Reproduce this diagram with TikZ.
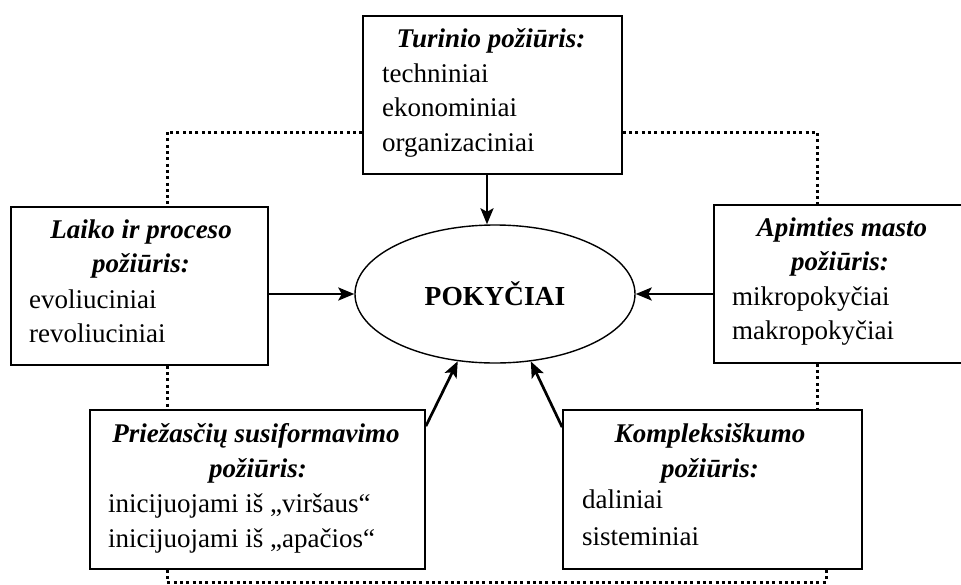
\documentclass[tikz,border=0pt]{standalone}
\usepackage{fontspec}
\setmainfont{Liberation Serif}
\usetikzlibrary{arrows.meta,shapes.geometric}

\tikzset{
  box/.style={draw, line width=1.7pt, rectangle, inner sep=0pt},
  core/.style={draw, line width=1.4pt, ellipse, inner sep=0pt,
    minimum width=280pt, minimum height=138pt,
    font=\fontsize{27.5}{30}\selectfont\bfseries},
  ttl/.style={anchor=base, inner sep=0pt, font=\fontsize{27}{34}\selectfont\bfseries\itshape},
  itm/.style={anchor=base west, inner sep=0pt, font=\fontsize{27}{34}\selectfont},
  arr/.style={line width=2.7pt, -{Stealth[length=16pt,width=13pt,inset=3.5pt]}},
  dots/.style={line width=3pt, dash pattern=on 3pt off 3.3pt}
}

\begin{document}
\begin{tikzpicture}[x=1pt,y=-1pt]
\useasboundingbox (0,0) rectangle (961,584);

% central ellipse
\node[core] (pk) at (495,294) {POKYČIAI};

% the five surrounding boxes
\node[box, minimum width=259pt, minimum height=158pt] (top) at (492.5,95) {};
\node[box, minimum width=257pt, minimum height=158pt] (lt)  at (139.5,286) {};
\node[box, minimum width=252pt, minimum height=158pt] (rt)  at (840,284) {};
\node[box, minimum width=335pt, minimum height=159pt] (bl)  at (257.5,489.5) {};
\node[box, minimum width=299pt, minimum height=159pt] (br)  at (712.5,489.5) {};

% texts of the top box
\node[ttl] (t0) at (491,47) {Turinio požiūris:};
\node[itm] (t1) at (382,82) {techniniai};
\node[itm] (t2) at (382,116) {ekonominiai};
\node[itm] (t3) at (382,151) {organizaciniai};

% texts of the left box
\node[ttl] (l0) at (141,238) {Laiko ir proceso};
\node[ttl] (l1) at (141,272) {požiūris:};
\node[itm] (l2) at (29,308) {evoliuciniai};
\node[itm] (l3) at (29,342) {revoliuciniai};

% texts of the right box
\node[ttl] (r0) at (842,236) {Apimties masto};
\node[ttl] (r1) at (840,270) {požiūris:};
\node[itm] (r2) at (732,305) {mikropokyčiai};
\node[itm] (r3) at (732,339) {makropokyčiai};

% texts of the lower left box
\node[ttl] (b0) at (256,442) {Priežasčių susiformavimo};
\node[ttl] (b1) at (258,477) {požiūris:};
\node[itm] (b2) at (108,512) {inicijuojami iš „viršaus“};
\node[itm] (b3) at (108,547) {inicijuojami iš „apačios“};

% texts of the lower right box
\node[ttl] (k0) at (710,442) {Kompleksiškumo};
\node[ttl] (k1) at (710,477) {požiūris:};
\node[itm] (k2) at (582,508) {daliniai};
\node[itm] (k3) at (582,545) {sisteminiai};

% arrows into the ellipse
\draw[arr] ([xshift=-5.5pt]top.south) -- ([xshift=-8pt]pk.north);
\draw[arr] (lt.east |- pk.west) -- (pk.west);
\draw[arr] (rt.west |- pk.east) -- (pk.east);
\draw[arr] ([yshift=-17pt]bl.north east) -- (pk.-119);
\draw[arr] ([yshift=-18pt]br.north west) -- (pk.-62);

% dotted frame linking the boxes
\coordinate (base) at (0,582);
\draw[dots] ([yshift=-37pt]top.west) -| ([xshift=27.5pt]lt.north);
\draw[dots] ([yshift=-37pt]top.east) -| ([xshift=-23pt]rt.north);
\draw[dots] ([xshift=27.5pt]lt.south) -- ([xshift=27.5pt]lt.south |- bl.north);
\draw[dots] ([xshift=-23pt]rt.south) -- ([xshift=-23pt]rt.south |- br.north);
\draw[dots] ([xshift=27.5pt]lt.south |- bl.south) -- ([xshift=27.5pt]lt.south |- base)
  -| ([xshift=113.5pt]br.south);
\end{tikzpicture}
\end{document}
